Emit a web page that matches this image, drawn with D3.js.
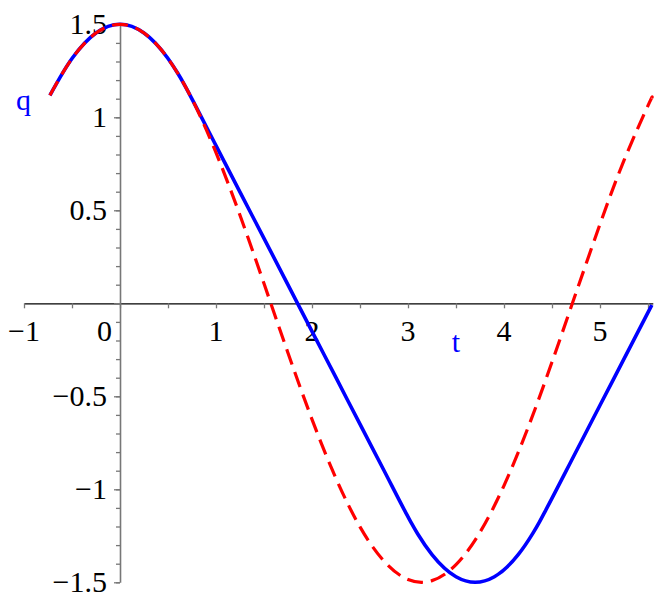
<!DOCTYPE html>
<html>
<head>
<meta charset="utf-8">
<script src="https://cdn.jsdelivr.net/npm/d3@7"></script>
<style>
  html, body { margin: 0; padding: 0; background: #fff; }
  svg { display: block; }
  text { font-family: "Liberation Serif", "Times New Roman", serif; }
</style>
</head>
<body>
<svg id="chart" width="662" height="607"></svg>
<script>
// ---- data ----
const tRed = [-0.73, -0.5, -0.25, 0, 0.25, 0.5, 0.75, 1, 1.25, 1.5, 1.75, 2, 2.25, 2.5, 2.75, 3,
              3.25, 3.5, 3.75, 4, 4.25, 4.5, 4.75, 5, 5.25, 5.5, 5.54];
const qRed = [1.118, 1.316, 1.453, 1.5, 1.453, 1.316, 1.098, 0.810, 0.473, 0.106, -0.267, -0.624,
              -0.942, -1.202, -1.386, -1.485, -1.491, -1.405, -1.231, -0.980, -0.669, -0.316,
              0.056, 0.425, 0.768, 1.063, 1.104];

const tBlue = [-0.73, -0.5, -0.25, 0, 0.25, 0.5, 0.6, 0.67, 0.73, 1, 1.25, 1.5, 1.75, 2, 2.25,
               2.5, 2.75, 2.97, 3.03, 3.1, 3.25, 3.5, 3.7, 3.9, 4.15, 4.3, 4.37, 4.43, 4.75, 5,
               5.25, 5.54];
const qBlue = [1.118, 1.316, 1.453, 1.5, 1.453, 1.316, 1.238, 1.176, 1.118, 0.848, 0.598, 0.349,
               0.099, -0.151, -0.400, -0.650, -0.899, -1.119, -1.177, -1.239, -1.351, -1.470,
               -1.5, -1.470, -1.350, -1.237, -1.175, -1.117, -0.798, -0.548, -0.299, -0.009];

const xTickValues = [-1, -0.5, 0, 0.5, 1, 1.5, 2, 2.5, 3, 3.5, 4, 4.5, 5, 5.5];
const xTickLabels = [-1, 0, 1, 2, 3, 4, 5];
const yMajorTicks = [-1.5, -1, -0.5, 0, 0.5, 1, 1.5];
const yMinorTicks = d3.range(-15, 16).map(d => d / 10);
const yTickLabels = [-1.5, -1, -0.5, 0.5, 1, 1.5];

// ---- layout ----
const svg = d3.select("#chart");
const x = d3.scaleLinear().domain([-1, 5.55]).range([24, 652.8]);
const y = d3.scaleLinear().domain([-1.5, 1.5]).range([582.3, 24.3]);
const fmt = v => (v < 0 ? "\u2212" : "") + String(Math.abs(v));
const fontSize = 30;

// x axis
const xAxis = svg.append("g")
  .attr("transform", `translate(0,${y(0)})`)
  .call(d3.axisBottom(x).tickValues(xTickValues).tickSize(5).tickSizeOuter(0).tickFormat(""));
xAxis.select(".domain").attr("stroke", "#000").attr("stroke-width", 1.3);
xAxis.selectAll(".tick line").attr("stroke", "#777").attr("stroke-width", 1.3);

// y axis (minor + major ticks on the left)
const yAxisMinor = svg.append("g")
  .attr("transform", `translate(${x(0)},0)`)
  .call(d3.axisLeft(y).tickValues(yMinorTicks).tickSize(4).tickSizeOuter(0).tickFormat(""));
yAxisMinor.select(".domain").attr("stroke", "#777").attr("stroke-width", 1.6);
yAxisMinor.selectAll(".tick line").attr("stroke", "#777").attr("stroke-width", 1.3);
const yAxisMajor = svg.append("g")
  .attr("transform", `translate(${x(0)},0)`)
  .call(d3.axisLeft(y).tickValues(yMajorTicks).tickSize(6).tickSizeOuter(0).tickFormat(""));
yAxisMajor.select(".domain").remove();
yAxisMajor.selectAll(".tick line").attr("stroke", "#777").attr("stroke-width", 1.3);

// tick labels
svg.append("g").selectAll("text").data(xTickLabels).join("text")
  .attr("x", d => d === 0 ? x(0) - 8 : x(d))
  .attr("y", y(0) + 38)
  .attr("text-anchor", d => d === 0 ? "end" : "middle")
  .attr("font-size", fontSize)
  .attr("fill", "#000")
  .text(fmt);

svg.append("g").selectAll("text").data(yTickLabels).join("text")
  .attr("x", x(0) - 13)
  .attr("y", d => y(d) + 10)
  .attr("text-anchor", "end")
  .attr("font-size", fontSize)
  .attr("fill", "#000")
  .text(fmt);

// axis titles
svg.append("text").attr("x", 456).attr("y", 352).attr("text-anchor", "middle")
  .attr("font-size", fontSize).attr("fill", "#0000ff").text("t");
svg.append("text").attr("x", 16).attr("y", 110).attr("text-anchor", "start")
  .attr("font-size", fontSize).attr("fill", "#0000ff").text("q");

// curves
const blueLine = d3.line().x((d, i) => x(tBlue[i])).y(d => y(d)).curve(d3.curveMonotoneX);
const redLine = d3.line().x((d, i) => x(tRed[i])).y(d => y(d)).curve(d3.curveNatural);

svg.append("path").datum(qBlue).attr("d", blueLine)
  .attr("fill", "none").attr("stroke", "#0000ff").attr("stroke-width", 3.6)
  .attr("stroke-linejoin", "round");
svg.append("path").datum(qRed).attr("d", redLine)
  .attr("fill", "none").attr("stroke", "#ff0000").attr("stroke-width", 3.2)
  .attr("stroke-dasharray", "16,8");
</script>
</body>
</html>
